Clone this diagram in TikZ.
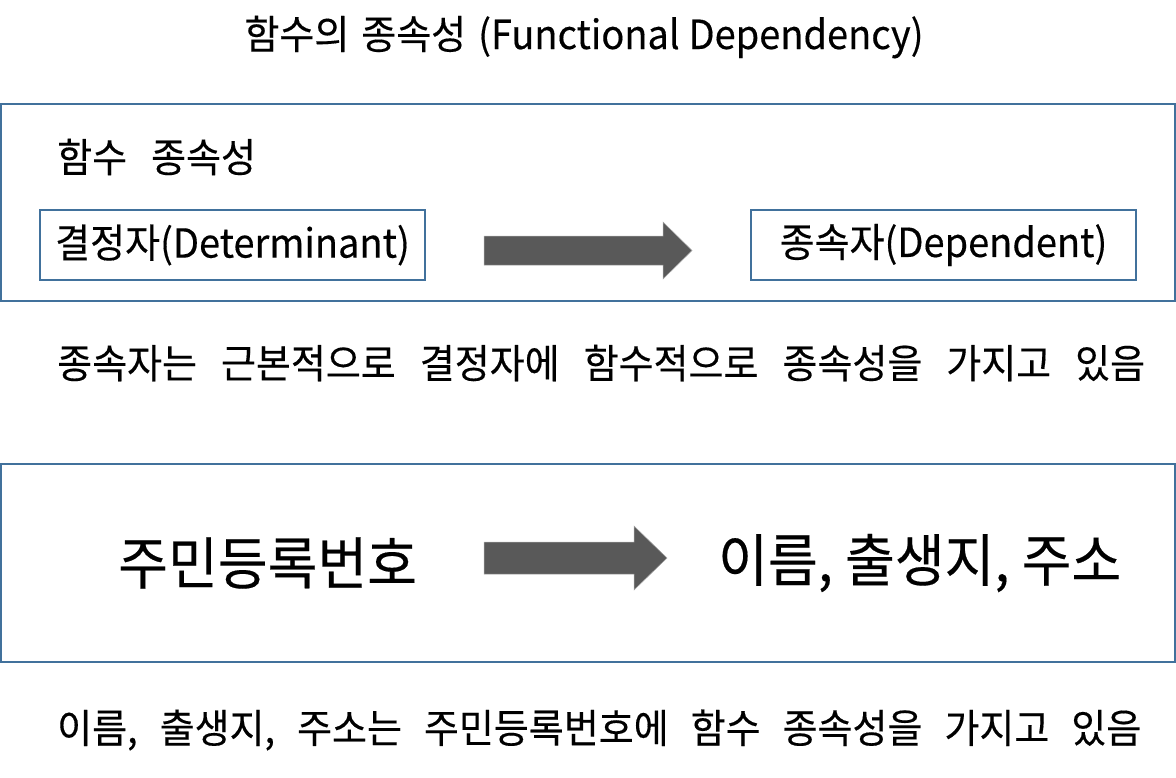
\documentclass[tikz,border=0pt]{standalone}
\usepackage{fontspec}
\setmainfont{Noto Sans CJK KR}[FakeStretch=0.95, FakeBold=0.3]
\newcommand\wordgap[1]{\spaceskip=#1\relax}
\definecolor{boxblue}{HTML}{41719C}
\definecolor{arrowgray}{HTML}{595959}
\tikzset{
  frame/.style={draw=boxblue, line width=1.5pt},
  txt/.style={font={\fontsize{40}{48}\selectfont\wordgap{24pt}}, inner sep=0pt},
  bigtxt/.style={font={\fontsize{57}{68}\selectfont}, inner sep=0pt},
  blockarrow/.style={fill=arrowgray, draw=gray!70, line width=0.5pt}
}
\begin{document}
\begin{tikzpicture}[x=1pt,y=-1pt]
    \useasboundingbox (0,0) rectangle (1176,777);

    %TITLE
    \node (title) [txt, font={\fontsize{40}{48}\selectfont\wordgap{12pt}}] at (584,37) {함수의 종속성 (Functional\hspace{0.22em}Dependency)};

    %FIRST BOX
    \draw [frame] (1,104) rectangle (1175,301);
    \node (fdlabel) [txt, anchor=west] at (57,157) {함수 종속성};
    \node (det) [frame, txt, minimum width=385, minimum height=70] at (232.5,245) {결정자(Determinant)};
    \node (dep) [frame, txt, minimum width=385, minimum height=70] at (943.5,245) {종속자(Dependent)};
    \fill [blockarrow] (484,236) -- (663,236) -- (663,222) -- (692,250.5) -- (663,279) -- (663,265) -- (484,265) -- cycle;

    \node (note1) [txt, anchor=west] at (57,363) {종속자는 근본적으로 결정자에 함수적으로 종속성을 가지고 있음};

    %SECOND BOX
    \draw [frame] (1,464) rectangle (1175,662);
    \node (rrn) [bigtxt, anchor=west] at (118,563) {주민등록번호};
    \node (info) [bigtxt, anchor=west] at (718,563) {이름, 출생지, 주소};
    \fill [blockarrow] (484,542) -- (634,542) -- (634,526) -- (667,558) -- (634,590) -- (634,574) -- (484,574) -- cycle;

    \node (note2) [txt, font={\fontsize{40}{48}\selectfont\wordgap{22pt}}, anchor=west] at (57,730) {이름, 출생지, 주소는 주민등록번호에 함수 종속성을 가지고 있음};
\end{tikzpicture}
\end{document}
